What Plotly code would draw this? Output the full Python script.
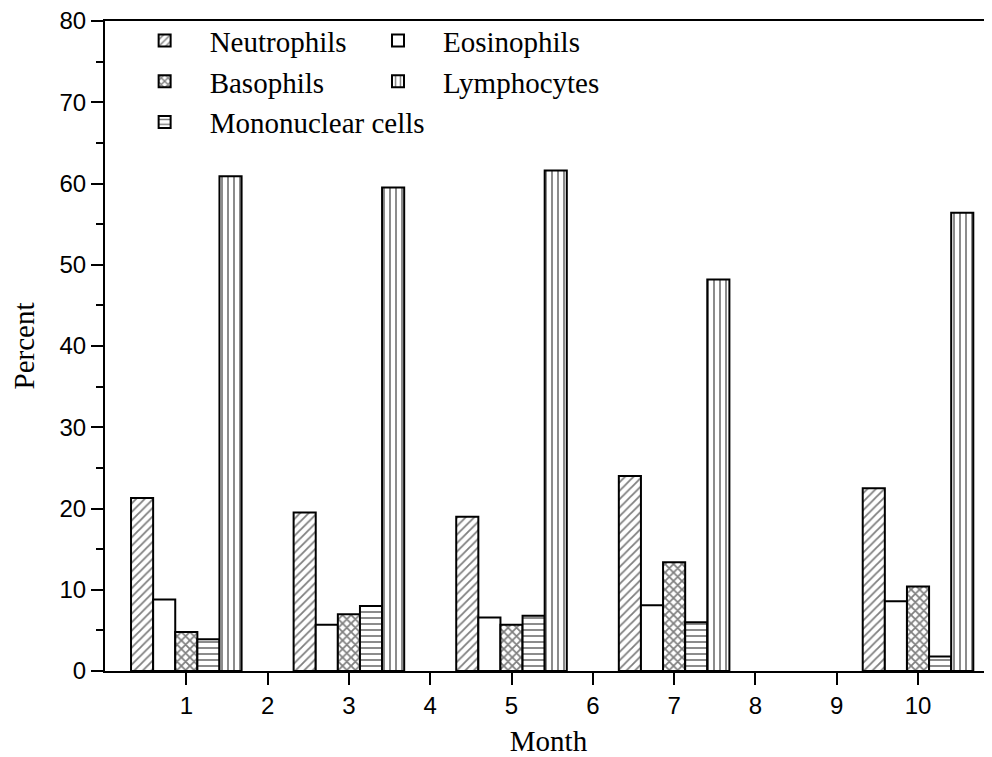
import plotly.graph_objects as go

months = [1, 3, 5, 7, 10]
neutrophils = [21.3, 19.5, 19.0, 24.0, 22.5]
eosinophils = [8.8, 5.7, 6.6, 8.1, 8.6]
basophils = [4.8, 7.0, 5.7, 13.4, 10.4]
mononuclear = [3.9, 8.0, 6.8, 6.0, 1.8]
lymphocytes = [60.9, 59.5, 61.6, 48.2, 56.4]
x_ticks = list(range(1, 11))

series = [
    ("Neutrophils", neutrophils, "/", 0.3, "legend", 1),
    ("Eosinophils", eosinophils, "", 0.3, "legend2", 1),
    ("Basophils", basophils, "x", 0.5, "legend", 2),
    ("Mononuclear cells", mononuclear, "-", 0.3, "legend", 3),
    ("Lymphocytes", lymphocytes, "|", 0.3, "legend2", 2),
]

fig = go.Figure()
for name, vals, shape, solid, leg, rank in series:
    fig.add_trace(go.Bar(
        x=months, y=vals, name=name, legend=leg, legendrank=rank,
        marker=dict(
            color="white",
            line=dict(color="black", width=2),
            pattern=dict(shape=shape, fgcolor="black", bgcolor="white",
                         size=6, solidity=solid, fillmode="overlay"),
        ),
    ))

legend_font = dict(family="Liberation Serif", size=29, color="black")
common_legend = dict(
    orientation="v", yanchor="top", xanchor="left",
    font=legend_font, bgcolor="rgba(0,0,0,0)", borderwidth=0,
    itemwidth=80, tracegroupgap=0,
)

fig.update_layout(
    width=984, height=749,
    paper_bgcolor="white", plot_bgcolor="white",
    margin=dict(l=97, r=0, t=13, b=86, autoexpand=False),
    barmode="group", bargap=0.32, bargroupgap=0,
    showlegend=True,
    legend=dict(common_legend, x=0.0165, y=1.009),
    legend2=dict(common_legend, x=0.2796, y=1.009),
    font=dict(family="Liberation Sans", color="black"),
)

fig.update_xaxes(
    range=[0, 10.91], tickmode="array", tickvals=x_ticks,
    ticktext=[str(v) for v in x_ticks],
    showline=True, linecolor="black", linewidth=2, mirror=True,
    ticks="outside", ticklen=12, tickwidth=2, tickcolor="black",
    tickfont=dict(family="Liberation Sans", size=24, color="black"),
    ticklabeloverflow="allow",
    showgrid=False, zeroline=False,
    title=dict(text="Month", font=dict(family="Liberation Serif", size=29, color="black"), standoff=13),
)
fig.update_yaxes(
    range=[0, 80], dtick=10, tick0=0,
    showline=True, linecolor="black", linewidth=2, mirror=False,
    ticks="outside", ticklen=12, tickwidth=2, tickcolor="black",
    minor=dict(dtick=5, ticks="outside", ticklen=7, tickwidth=2, tickcolor="black", showgrid=False),
    tickfont=dict(family="Liberation Sans", size=24, color="black"),
    ticklabeloverflow="allow",
    showgrid=False, zeroline=False,
    title=dict(text="Percent", font=dict(family="Liberation Serif", size=29, color="black"), standoff=16),
)

fig.write_html("out.html")
